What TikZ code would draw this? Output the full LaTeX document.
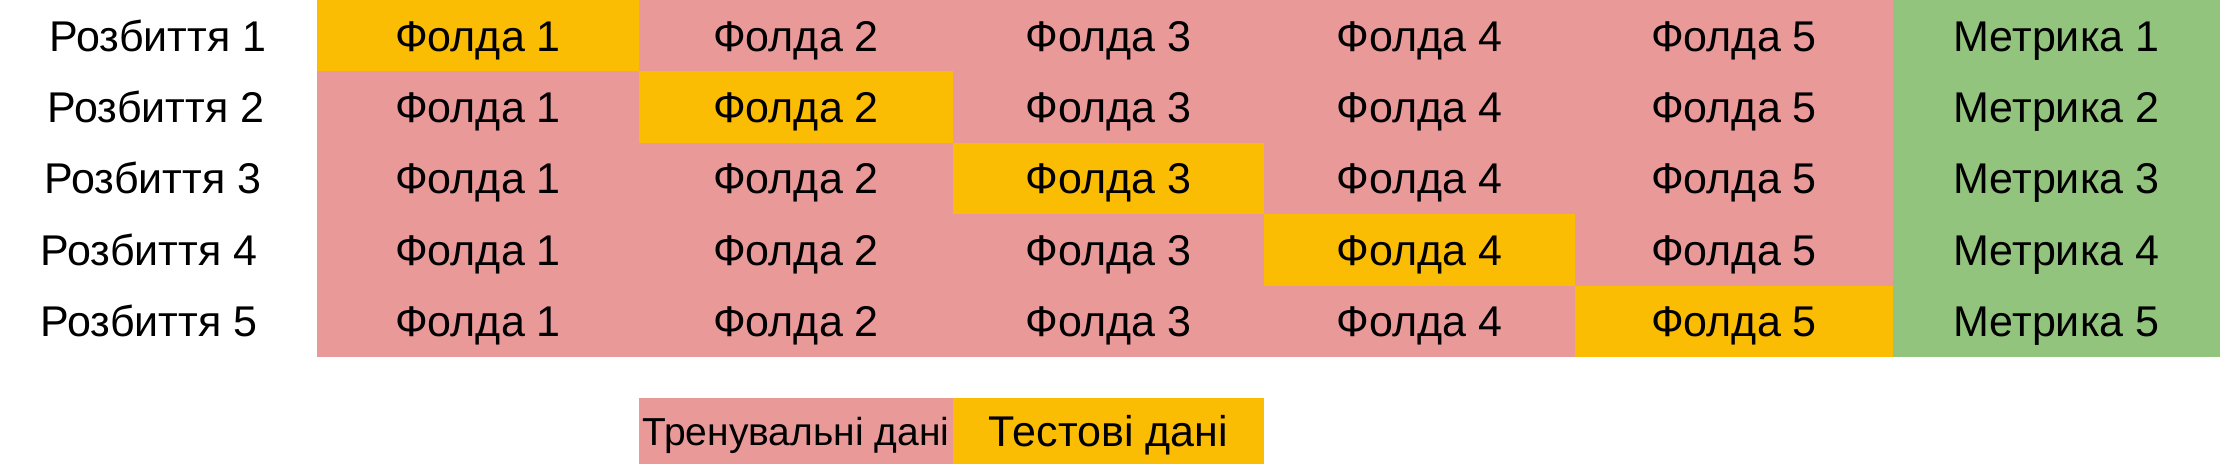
\documentclass[tikz,border=0pt]{standalone}
\usepackage{fontspec}
\setmainfont{Liberation Sans}
\definecolor{trainpink}{HTML}{EA9999}
\definecolor{testyellow}{HTML}{FBBC04}
\definecolor{metricgreen}{HTML}{93C47D}
\tikzset{
  cellbox/.style={inner sep=0pt, outer sep=0pt, minimum height=35.7pt,
    font=\fontsize{21.5}{25}\selectfont, text=black, text height=15.4pt, text depth=0pt},
  rowlabel/.style={inner sep=0pt, outer sep=0pt,
    font=\fontsize{21.5}{25}\selectfont, text=black, text height=15.4pt, text depth=0pt},
}
\begin{document}
\begin{tikzpicture}[x=0.5pt,y=-0.5pt]
\useasboundingbox (0,0) rectangle (2220,464);
\fill[trainpink] (317,0) rectangle (1893,357);
\fill[metricgreen] (1893,0) rectangle (2220,357);
\foreach \r/\lx in {1/158,2/156,3/153,4/149,5/149}{
  \node[rowlabel] (s\r) at (\lx,{(\r-0.5)*71.4}) {Розбиття \r};
  \foreach \c/\xl/\xr in {1/317/639,2/639/953,3/953/1264,4/1264/1575,5/1575/1893}{
    \ifnum\c=\r\relax\def\cellcol{testyellow}\else\def\cellcol{trainpink}\fi
    \node[cellbox, fill=\cellcol, minimum width={(\xr-\xl)*0.5pt}]
      (f\r\c) at ({(\xl+\xr)/2},{(\r-0.5)*71.4}) {Фолда \c};
  }
  \node[cellbox, fill=metricgreen, minimum width=163.5pt]
    (m\r) at (2056.5,{(\r-0.5)*71.4}) {Метрика \r};
}
\node[cellbox, fill=trainpink, minimum width=157pt, minimum height=33pt,
  font=\fontsize{19.5}{23}\selectfont, text height=14pt] (train) at (796,431) {Тренувальні дані};
\node[cellbox, fill=testyellow, minimum width=155.5pt, minimum height=33pt] (test) at (1108.5,431) {Тестові дані};
\end{tikzpicture}
\end{document}
